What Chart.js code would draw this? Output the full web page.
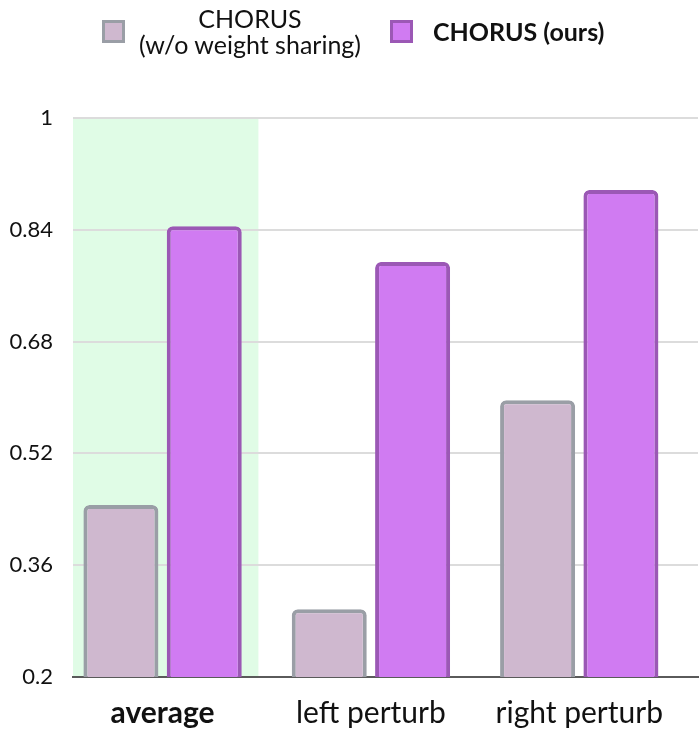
<!DOCTYPE html>
<html>
<head>
<meta charset="utf-8">
<script src="https://cdn.jsdelivr.net/npm/chart.js@4/dist/chart.umd.min.js"></script>
<style>
  html, body { margin: 0; padding: 0; background: #fff; }
  #wrap { position: relative; width: 700px; height: 746px; font-family: Lato, sans-serif; color: #111; }
  #legend .box { position: absolute; width: 17px; height: 17px; border: 3px solid; }
  #legend .txt { position: absolute; font-size: 25px; line-height: 26px; white-space: nowrap; }
</style>
</head>
<body>
<div id="wrap">
  <canvas id="chart"></canvas>
  <div id="legend"></div>
</div>
<script>
  // data
  const categories = ['average', 'left perturb', 'right perturb'];
  const seriesNames = ['CHORUS\n(w/o weight sharing)', 'CHORUS (ours)'];
  const noSharing = [0.446, 0.297, 0.596];
  const ours = [0.845, 0.794, 0.897];
  const yTicks = [0.2, 0.36, 0.52, 0.68, 0.84, 1];

  const fills = ['#cfb8cf', '#d07bf2'];
  const borders = ['#9a9ea6', '#9b58b5'];

  // light green band behind the highlighted category
  const bandPlugin = {
    id: 'band',
    beforeDraw(chart) {
      const { ctx, chartArea, scales } = chart;
      const right = scales.x.getPixelForValue(0.46);
      ctx.save();
      ctx.fillStyle = '#e0fce6';
      ctx.fillRect(chartArea.left, chartArea.top, right - chartArea.left, chartArea.bottom - chartArea.top);
      ctx.restore();
    }
  };

  const mkData = arr => arr.map((v, i) => ({ x: i, y: v }));

  const chart = new Chart(document.getElementById('chart'), {
    type: 'bar',
    data: {
      datasets: [noSharing, ours].map((arr, k) => ({
        label: seriesNames[k],
        data: mkData(arr),
        backgroundColor: fills[k],
        borderColor: borders[k],
        borderWidth: 4,
        borderSkipped: false,
        borderRadius: { topLeft: 6, topRight: 6 },
        categoryPercentage: 0.8,
        barPercentage: 0.9
      }))
    },
    options: {
      responsive: true,
      maintainAspectRatio: false,
      animation: false,
      layout: { padding: { top: 118, right: 2, left: 0, bottom: 0 } },
      plugins: { legend: { display: false }, tooltip: { enabled: false } },
      scales: {
        x: {
          type: 'linear',
          offset: false,
          min: -0.43,
          max: 2.57,
          afterBuildTicks: s => { s.ticks = categories.map((c, i) => ({ value: i })); },
          afterFit: s => { s.height = 69; },
          grid: { display: false, drawTicks: false, offset: false },
          border: { display: true, color: '#5a5a5a', width: 2 },
          ticks: {
            color: '#111',
            padding: 18,
            autoSkip: false,
            maxRotation: 0,
            callback: v => categories[v],
            font: ctx => ({ family: 'Lato', size: 30, weight: ctx.index === 0 ? 'bold' : 'normal' })
          }
        },
        y: {
          min: 0.2,
          max: 1,
          afterBuildTicks: s => { s.ticks = yTicks.map(v => ({ value: v })); },
          afterFit: s => { s.width = 73; },
          grid: { color: '#dcdcdc', lineWidth: 2, drawTicks: false },
          border: { display: false },
          ticks: {
            color: '#111',
            padding: 20,
            font: { family: 'Lato', size: 22 },
            callback: v => String(+v.toFixed(2))
          }
        }
      }
    },
    plugins: [bandPlugin]
  });

  // html legend
  const legend = document.getElementById('legend');
  const boxX = [102, 390];
  seriesNames.forEach((name, k) => {
    const box = document.createElement('div');
    box.className = 'box';
    box.style.left = boxX[k] + 'px';
    box.style.top = '20px';
    box.style.background = fills[k];
    box.style.borderColor = borders[k];
    legend.appendChild(box);
    const txt = document.createElement('div');
    txt.className = 'txt';
    if (k === 0) {
      txt.innerHTML = name.split('\n').join('<br>');
      txt.style.textAlign = 'center';
      txt.style.left = '133px';
      txt.style.width = '234px';
      txt.style.top = '5px';
    } else {
      txt.textContent = name;
      txt.style.fontWeight = 'bold';
      txt.style.left = '433px';
      txt.style.top = '18px';
    }
    legend.appendChild(txt);
  });
</script>
</body>
</html>
